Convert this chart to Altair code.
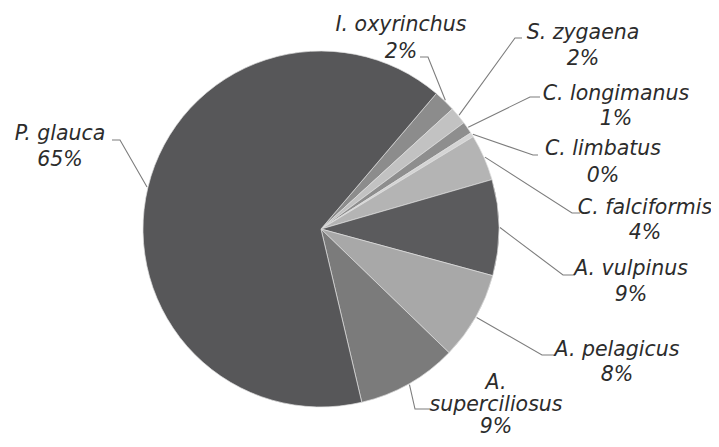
import math
import altair as alt
import pandas as pd

# ---- data ----
species = ["I. oxyrinchus", "S. zygaena", "C. longimanus", "C. limbatus",
           "C. falciformis", "A. vulpinus", "A. pelagicus", "A. superciliosus",
           "P. glauca"]
shares = [2.0, 1.6, 1.1, 0.4, 4.2, 8.7, 8.0, 9.1, 64.9]
pct_labels = ["2%", "2%", "1%", "0%", "4%", "9%", "8%", "9%", "65%"]
name_lines = [["I. oxyrinchus"], ["S. zygaena"], ["C. longimanus"], ["C. limbatus"],
              ["C. falciformis"], ["A. vulpinus"], ["A. pelagicus"],
              ["A.", "superciliosus"], ["P. glauca"]]

# ---- styles ----
colors = ["#8c8c8c", "#c2c2c2", "#8e8e8e", "#d4d4d4", "#b4b4b4",
          "#5b5b5d", "#a8a8a8", "#7b7b7b", "#575759"]
TEXT_COLOR = "#2c2c2c"
LINE_COLOR = "#7d7d7d"

# ---- layout (page pixels) ----
M = 8
W, H = 703, 431
CX, CY, R = 321 - M, 229 - M, 178
START = math.radians(40.4)
label_xy = [(401, 25), (583, 33), (616, 94), (603, 149), (645, 208),
            (631, 269), (617, 350), (496, 383), (60, 134)]
line_gap = [27, 26, 25, 27, 25, 26, 25, 22, 26]
leader_end = [(420, 57), (522, 38), (540, 97), (538, 155), (580, 213),
              (575, 275), (555, 355), (430, 409), (112, 140)]
leader_elbow = [(428, 57), (515, 38), (530, 97), (533, 155), (572, 213),
                (563, 275), (542, 355), (415, 409), (120, 140)]

pie_df = pd.DataFrame({"species": species, "share": shares,
                       "idx": list(range(len(species)))})

# text rows
rows = []
for i, sp in enumerate(species):
    lines = name_lines[i] + [pct_labels[i]]
    x0, y0 = label_xy[i]
    for j, t in enumerate(lines):
        rows.append({"species": sp, "text": t, "x": x0 - M, "y": y0 - M + j * line_gap[i]})
text_df = pd.DataFrame(rows)

# leader lines: label end -> elbow -> pie edge at slice mid-angle
total = sum(shares)
cum = 0.0
lrows = []
for i, sp in enumerate(species):
    mid = START + 2 * math.pi * (cum + shares[i] / 2) / total
    cum += shares[i]
    ex = CX + (R + 1) * math.sin(mid)
    ey = CY - (R + 1) * math.cos(mid)
    pts = [(leader_end[i][0] - M, leader_end[i][1] - M),
           (leader_elbow[i][0] - M, leader_elbow[i][1] - M),
           (ex, ey)]
    for k, (px, py) in enumerate(pts):
        lrows.append({"species": sp, "k": k, "x": px, "y": py})
line_df = pd.DataFrame(lrows)

pie = alt.Chart(pie_df).mark_arc(outerRadius=R, stroke="#dedede", strokeWidth=0.7).encode(
    theta=alt.Theta("share:Q", stack=True,
                    scale=alt.Scale(range=[START, START + 2 * math.pi])),
    color=alt.Color("species:N", scale=alt.Scale(domain=species, range=colors), legend=None),
    order=alt.Order("idx:Q"),
    x=alt.value(CX),
    y=alt.value(CY),
)

leaders = alt.Chart(line_df).mark_line(color=LINE_COLOR, strokeWidth=1.1).encode(
    x=alt.X("x:Q", scale=None, axis=None),
    y=alt.Y("y:Q", scale=None, axis=None),
    detail="species:N",
    order="k:Q",
)

labels = alt.Chart(text_df).mark_text(
    font="DejaVu Sans", fontStyle="italic", fontSize=20.5, color=TEXT_COLOR,
    align="center", baseline="middle"
).encode(
    x=alt.X("x:Q", scale=None, axis=None),
    y=alt.Y("y:Q", scale=None, axis=None),
    text="text:N",
)

chart = alt.layer(pie, leaders, labels).properties(
    width=W, height=H, padding=0, autosize=alt.AutoSizeParams(type="none"),
    background="#ffffff",
).configure_view(stroke=None)

chart.save("out.html", embed_options={"renderer": "svg", "actions": False})
